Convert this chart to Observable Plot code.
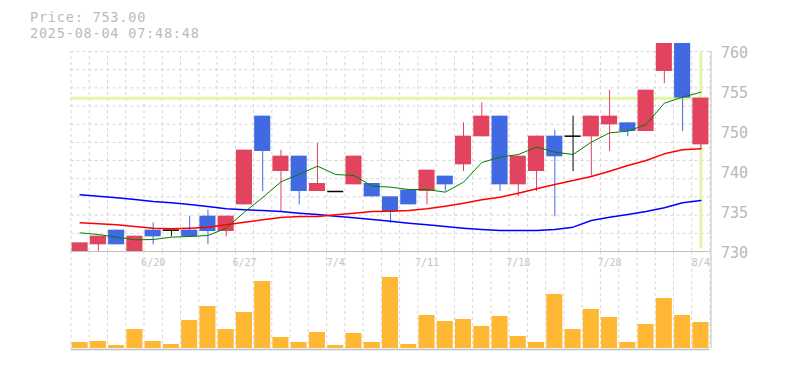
<!DOCTYPE html>
<html><head><meta charset="utf-8">
<script src="https://cdn.jsdelivr.net/npm/d3@7"></script>
<script src="https://cdn.jsdelivr.net/npm/@observablehq/plot@0.6"></script>
<style>
body{margin:0;background:#fff;}
#wrap{position:relative;width:785px;height:370px;overflow:hidden;}
.t{position:absolute;left:30px;font-family:"DejaVu Sans Mono",monospace;font-size:13.5px;letter-spacing:0.8px;line-height:12px;height:12px;color:#bbbbbb;white-space:pre;}
#price,#vol{position:absolute;left:0;}
#price{top:0px;} #vol{top:251px;}
svg{background:transparent;}
</style></head><body>
<div id="wrap">
<div id="price"></div><div id="vol"></div>
<div class="t" style="top:11.4px">Price: 753.00</div>
<div class="t" style="top:27.4px">2025-08-04 07:48:48</div>
</div>
<script>
const dates = ["6/16","6/17","6/18","6/19","6/20","6/23","6/24","6/25","6/26","6/27","6/30","7/1","7/2","7/3","7/4","7/7","7/8","7/9","7/10","7/11","7/14","7/15","7/16","7/17","7/18","7/22","7/23","7/24","7/25","7/28","7/29","7/30","7/31","8/1","8/4"];
const opens  = [730.0,731.0,733.2,730.0,733.2,733.2,733.2,735.3,733.0,737.0,750.3,742.0,744.3,739.0,739.0,740.0,740.2,738.2,739.2,739.0,741.3,743.0,747.2,750.3,740.0,742.0,747.3,747.3,747.2,749.0,749.3,748.0,757.0,762.0,746.0];
const highs  = [731.3,732.3,733.2,732.3,734.3,733.2,735.3,736.2,735.3,745.2,750.3,745.2,744.3,746.2,739.0,744.3,740.2,738.2,739.2,742.2,741.3,749.3,752.3,750.3,744.3,747.3,748.2,750.3,750.3,754.2,749.3,754.2,762.0,762.0,753.0];
const lows   = [730.0,730.0,731.0,730.0,731.0,732.2,732.2,731.0,732.2,737.0,739.0,736.0,737.0,739.0,739.0,740.0,738.2,734.2,737.0,737.0,739.0,742.0,747.2,739.0,738.2,739.0,735.2,742.0,741.2,745.0,747.2,748.0,755.2,748.0,745.2];
const closes = [731.3,732.3,731.0,732.3,732.2,733.2,732.2,733.0,735.3,745.2,745.0,744.3,739.0,740.2,739.0,744.3,738.2,736.0,737.0,742.2,740.0,747.3,750.3,740.0,744.3,747.3,744.2,747.3,750.3,750.3,748.0,754.2,762.0,753.0,753.0];
const volumes = [6000,7000,3000,19000,7000,4000,28000,42000,19000,36000,67000,11000,6000,16000,3000,15000,6000,71000,4000,33000,27000,29000,22000,32000,12000,6000,54000,19000,39000,31000,6000,24000,50000,33000,26000];
const ma5  = [732.8,732.55,732.15,731.75,731.8,732.15,732.25,732.4,733.5,735.9,738.1,740.45,741.6,742.8,741.55,741.4,739.8,739.65,739.3,739.3,738.9,740.4,743.35,744.15,744.55,745.65,744.9,744.55,746.4,747.8,748.05,749.05,752.25,753.15,753.9];
const ma25 = [734.3,734.15,734.0,733.75,733.5,733.4,733.5,733.65,734.0,734.4,734.75,735.1,735.25,735.25,735.5,735.75,736.0,736.05,736.15,736.4,736.8,737.25,737.75,738.15,738.75,739.4,740.05,740.65,741.25,742.05,742.9,743.65,744.65,745.25,745.4];
const ma75 = [738.5,738.3,738.05,737.8,737.5,737.3,737.05,736.75,736.4,736.25,736.15,736.0,735.75,735.55,735.3,735.05,734.8,734.55,734.25,734.0,733.75,733.5,733.3,733.15,733.15,733.15,733.3,733.65,734.65,735.15,735.55,736.0,736.55,737.3,737.65];
const yTickValues = [760,754,748,742,736,730];
const yTickLabels = ["760","755","750","740","735","730"];
const xTickDates = ["6/20","6/27","7/4","7/11","7/18","7/28","8/4"];
const lastPrice = 753.00;

const RED = "#e2435f", BLUE = "#4169e1", HL = "#e3f5a7", GRID = "#d6d6d6", BORDER = "#c0c0c0";
const rows = dates.map((d,i)=>({i, date:d, open:opens[i], high:highs[i], low:lows[i], close:closes[i], volume:volumes[i], ma5:ma5[i], ma25:ma25[i], ma75:ma75[i]}));
const col = d => d.close > d.open ? RED : d.close < d.open ? BLUE : "#000000";
const half = 0.44;
const gridX = d3.range(-0.5, 35, 1);
const gridY = d3.range(1, 12).map(k => 730 + k*30/11);
const yTicks = yTickValues.map((v,k)=>({v, label:yTickLabels[k]}));
const xTicks = xTickDates.map(d=>({i:dates.indexOf(d), label:d}));

const price = Plot.plot({
  width:785, height:275, marginTop:43, marginBottom:24, marginLeft:70.5, marginRight:75.5,
  x:{domain:[-0.5,34.5], axis:null},
  y:{domain:[730,761.2], axis:null},
  color:{type:"identity"},
  style:{background:"transparent", fontFamily:"DejaVu Sans Mono, monospace"},
  marks:[
    Plot.ruleX(gridX, {x:d=>d, y1:730, y2:760, stroke:GRID, strokeDasharray:"3,3"}),
    Plot.ruleY(gridY, {y:d=>d, stroke:GRID, strokeDasharray:"3,3"}),
    Plot.ruleY([730], {stroke:BORDER}),
    Plot.ruleX([34.5], {y1:730, y2:760, stroke:BORDER, dx:1}),
    Plot.ruleY([lastPrice], {stroke:HL, strokeWidth:3}),
    Plot.ruleX([34], {y1:730.4, y2:759.8, stroke:HL, strokeWidth:3}),
    Plot.ruleX(rows.filter(d=>d.high>d.low), {x:"i", y1:"low", y2:"high", stroke:col, clip:true}),
    Plot.rect(rows.filter(d=>d.open!==d.close), {x1:d=>d.i-half, x2:d=>d.i+half, y1:"open", y2:"close", fill:col, clip:true}),
    Plot.ruleY(rows.filter(d=>d.open===d.close), {y:"close", x1:d=>d.i-half, x2:d=>d.i+half, stroke:"#000000", strokeWidth:1.5}),
    Plot.line(rows, {x:"i", y:"ma75", stroke:"#0000ff", strokeWidth:1.5}),
    Plot.line(rows, {x:"i", y:"ma25", stroke:"#ff0000", strokeWidth:1.5}),
    Plot.line(rows, {x:"i", y:"ma5", stroke:"#008000", strokeWidth:1}),
    Plot.text(yTicks, {y:"v", text:"label", frameAnchor:"right", textAnchor:"start", dx:11, dy:2, fontSize:15, fill:"#b8b8b8"}),
    Plot.text(xTicks, {x:"i", y:()=>730, text:"label", dy:11, fontSize:10, fill:"#c4c4c4"})
  ]
});
document.getElementById("price").appendChild(price);

const vol = Plot.plot({
  width:785, height:100, marginTop:0, marginBottom:3, marginLeft:70.5, marginRight:75.5,
  x:{domain:[-0.5,34.5], axis:null},
  y:{domain:[0,97000], axis:null},
  style:{background:"transparent"},
  marks:[
    Plot.ruleX(gridX, {x:d=>d, stroke:GRID, strokeDasharray:"3,3"}),
    Plot.rect(rows, {x1:d=>d.i-half, x2:d=>d.i+half, y1:0, y2:"volume", fill:"#ffb833"}),
    Plot.ruleY([0], {dy:1, stroke:BORDER, strokeWidth:1.5}),
    Plot.ruleX([34.5], {stroke:BORDER, dx:1})
  ]
});
document.getElementById("vol").appendChild(vol);
</script>
</body></html>
